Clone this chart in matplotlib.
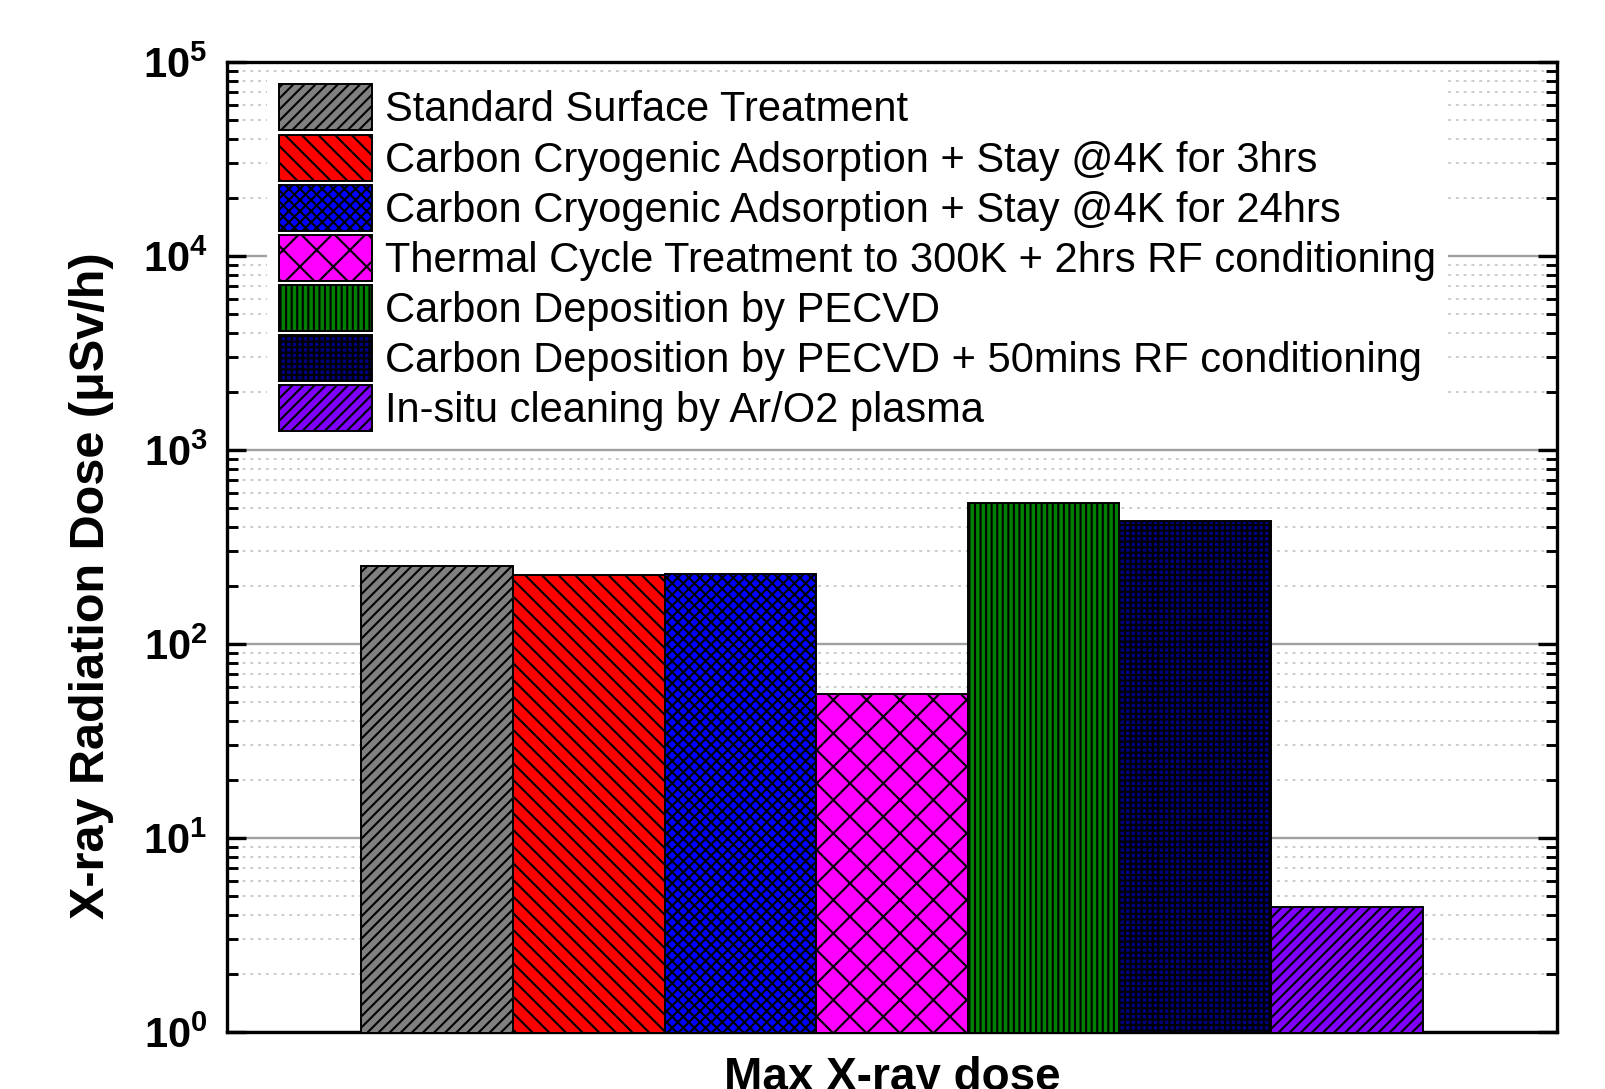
import numpy as np
import matplotlib
matplotlib.use("Agg")
import matplotlib.pyplot as plt
from matplotlib.ticker import FixedLocator, LogLocator, NullFormatter

plt.rcParams['font.family'] = ['Liberation Sans', 'DejaVu Sans']
plt.rcParams['mathtext.fontset'] = 'custom'
plt.rcParams['mathtext.rm'] = 'Liberation Sans'
plt.rcParams['mathtext.bf'] = 'Liberation Sans:bold'
plt.rcParams['hatch.linewidth'] = 1.5

# data
treatments = ["Standard Surface Treatment",
              "Carbon Cryogenic Adsorption + Stay @4K for 3hrs",
              "Carbon Cryogenic Adsorption + Stay @4K for 24hrs",
              "Thermal Cycle Treatment to 300K + 2hrs RF conditioning",
              "Carbon Deposition by PECVD",
              "Carbon Deposition by PECVD + 50mins RF conditioning",
              "In-situ cleaning by Ar/O2 plasma"]
dose = [252, 227, 229, 55, 533, 430, 4.4]
colors = ['#808080', '#ff0000', '#0000ff', '#ff00ff', '#008000', '#000080', '#8000ff']
hatches = ['///', '\\\\', 'xxx', 'x', '|||', '+++', '///']
xtick_labels = ["Max X-ray dose"]
y_exps = [0, 1, 2, 3, 4, 5]

DPI = 100
fig = plt.figure(figsize=(1606/DPI, 1089/DPI), dpi=DPI)
ax = fig.add_axes([227/1606, 1-1032/1089, (1557-227)/1606, (1032-62)/1089])
ax.set_yscale('log')

x = np.arange(len(dose))
for i in range(len(dose)):
    ax.bar(x[i], dose[i], width=1.0, color=colors[i], edgecolor='black',
           linewidth=1.4, hatch=hatches[i], label=treatments[i], zorder=3)

ax.set_xlim(-1.386, 7.386)
ax.set_ylim(1, 1e5)

# y ticks
ax.yaxis.set_major_locator(FixedLocator([10.0**e for e in y_exps]))
ax.set_yticklabels([r'$\mathbf{10^{%d}}$' % e for e in y_exps])
ax.yaxis.set_minor_locator(LogLocator(base=10, subs=np.arange(2, 10)))
ax.yaxis.set_minor_formatter(NullFormatter())
ax.tick_params(axis='y', which='major', direction='in', length=14, width=2.4,
               left=True, right=True, labelsize=30, pad=14)
ax.tick_params(axis='y', which='minor', direction='in', length=7.7, width=2.1,
               left=True, right=True)

# x ticks
ax.set_xticks([3])
ax.set_xticklabels(xtick_labels, fontsize=33, fontweight='bold')
ax.tick_params(axis='x', direction='in', length=6, width=1.4, pad=17, top=False)

for s in ax.spines.values():
    s.set_linewidth(2.4)

ax.grid(True, which='major', axis='y', color='#a0a0a0', linewidth=1.7, zorder=0)
ax.grid(True, which='minor', axis='y', color='#cccccc', linewidth=1.4,
        linestyle=(0, (1.5, 2.5)), zorder=0)
ax.set_axisbelow(True)

ax.set_ylabel("X-ray Radiation Dose (\u03bcSv/h)", fontsize=35, fontweight='bold')
ax.yaxis.set_label_coords(-0.085, 0.46)

leg = ax.legend(loc='upper left', bbox_to_anchor=(0.0298, 0.9897), borderaxespad=0,
                fontsize=30, frameon=True, fancybox=False, edgecolor='none',
                facecolor='white', framealpha=1, borderpad=0.3,
                handlelength=2.23, handleheight=1.32, labelspacing=0.1,
                handletextpad=0.3)
leg.set_zorder(5)

fig.savefig("out.png", dpi=DPI)
